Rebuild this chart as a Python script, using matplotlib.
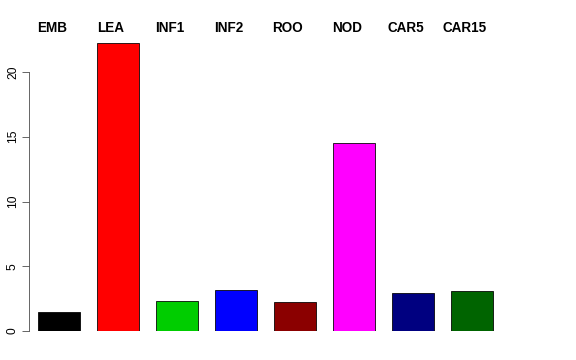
import matplotlib
matplotlib.use("Agg")
import matplotlib.pyplot as plt
import matplotlib.transforms as mtransforms
import numpy as np

plt.rcParams['font.family'] = ['Liberation Sans', 'DejaVu Sans']

categories = ["EMB", "LEA", "INF1", "INF2", "ROO", "NOD", "CAR5", "CAR15"]
values = [1.47, 22.24, 2.3, 3.17, 2.24, 14.52, 2.93, 3.09]
colors = ["black", "red", "#00CD00", "blue", "#8B0000", "magenta", "#000080", "#006400"]

W, H = 576, 360
fig = plt.figure(figsize=(W / 72, H / 72), dpi=72)
# axes placed in pixel terms: spine at x=29, zero line at y=331
left_px, right_px, bottom_px, top_px = 29, 540, 331, 40
ax = fig.add_axes([left_px / W, 1 - bottom_px / H,
                   (right_px - left_px) / W, (bottom_px - top_px) / H])

# R barplot layout: width 1, space 0.4
px_per_unit = 42.14
x0_px = 21.1
centers = 0.9 + 1.4 * np.arange(len(categories))
ax.bar(centers, values, width=1.0, color=colors, edgecolor="black", linewidth=0.8)

ax.set_xlim((left_px - x0_px) / px_per_unit, (right_px - x0_px) / px_per_unit)
ax.set_ylim(0, (bottom_px - top_px) / 12.95)

for s in ["top", "right", "bottom"]:
    ax.spines[s].set_visible(False)
ax.spines["left"].set_bounds(0, 20)
ax.spines["left"].set_color("#444444")
ax.set_xticks([])
ax.set_yticks([0, 5, 10, 15, 20])
ax.set_yticklabels(["0", "5", "10", "15", "20"], rotation=90, va="center", fontsize=12)
ax.tick_params(axis="y", length=7, width=0.8, color="#444444", pad=3)

trans = mtransforms.blended_transform_factory(ax.transData, fig.transFigure)
for c, name in zip(centers, categories):
    ax.text(c - 0.17, 1 - 28 / H, name, transform=trans, ha="center", va="center",
            fontsize=13.5, fontweight="bold")

fig.savefig("out.png", dpi=72)
